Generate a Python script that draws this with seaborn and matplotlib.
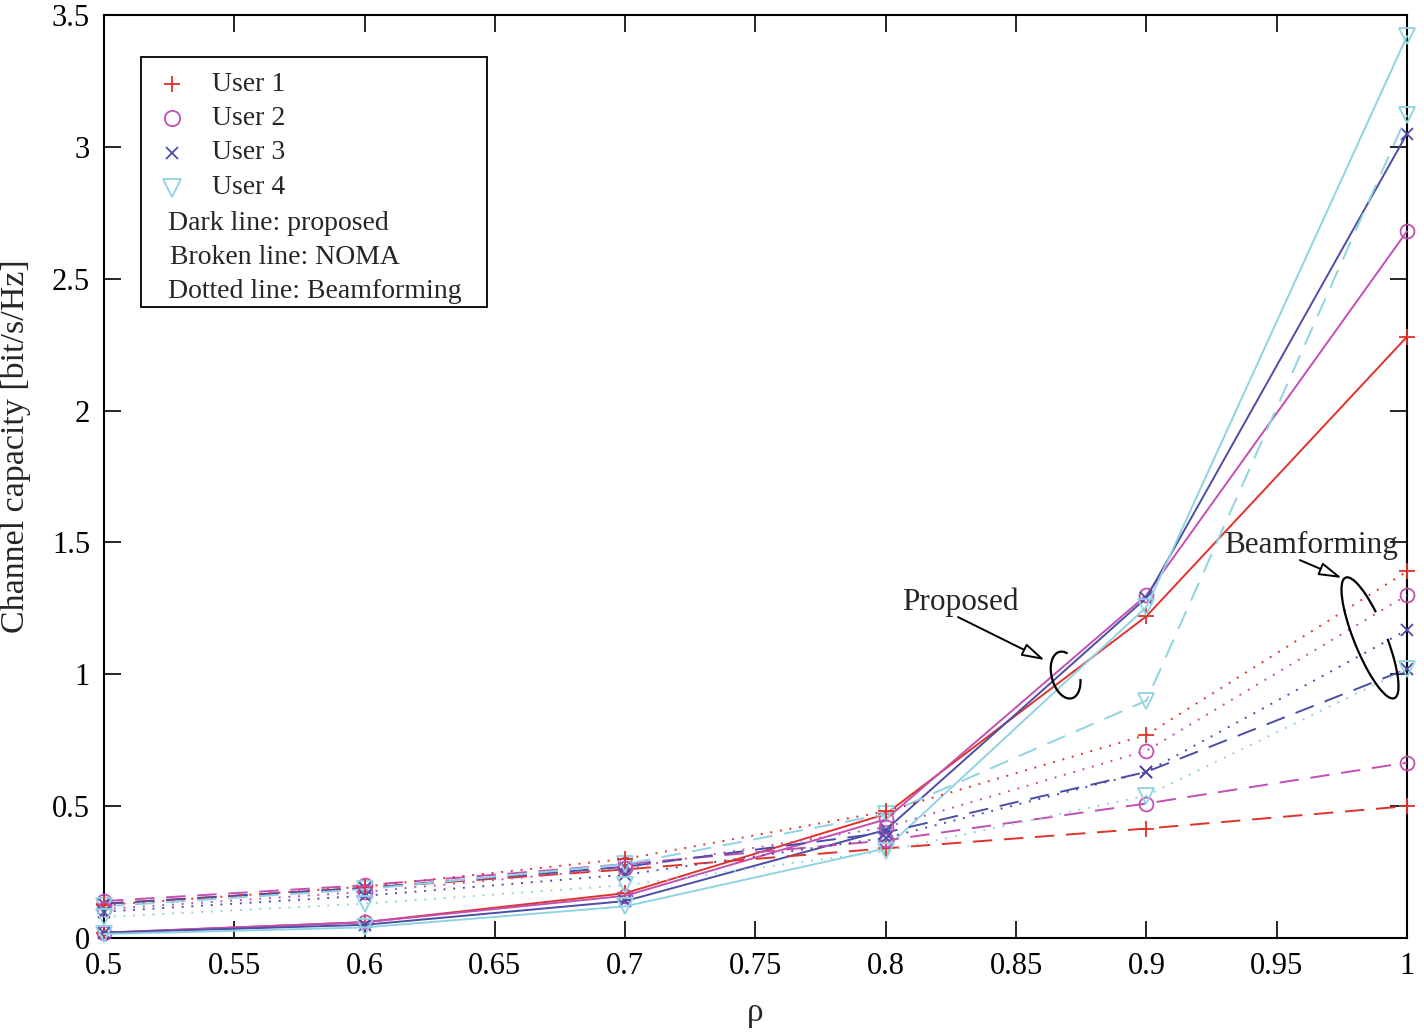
import matplotlib
matplotlib.use("Agg")
import matplotlib.pyplot as plt
import matplotlib.transforms as mtransforms
from matplotlib.patches import Arc, Rectangle
from matplotlib.lines import Line2D
import seaborn as sns
import numpy as np

# ---------------- data ----------------
rho = [0.5, 0.6, 0.7, 0.8, 0.9, 1.0]
users = ["User 1", "User 2", "User 3", "User 4"]

proposed_u1 = [0.020, 0.060, 0.170, 0.470, 1.220, 2.280]
proposed_u2 = [0.020, 0.060, 0.160, 0.450, 1.300, 2.680]
proposed_u3 = [0.020, 0.050, 0.140, 0.410, 1.290, 3.050]
proposed_u4 = [0.015, 0.040, 0.120, 0.340, 1.255, 3.420]

noma_u1 = [0.130, 0.190, 0.260, 0.340, 0.415, 0.500]
noma_u2 = [0.140, 0.200, 0.280, 0.370, 0.510, 0.665]
noma_u3 = [0.130, 0.190, 0.270, 0.400, 0.630, 1.020]
noma_u4 = [0.120, 0.185, 0.280, 0.470, 0.900, 3.120]

beam_u1 = [0.125, 0.195, 0.300, 0.480, 0.770, 1.390]
beam_u2 = [0.110, 0.175, 0.265, 0.420, 0.710, 1.300]
beam_u3 = [0.100, 0.160, 0.240, 0.380, 0.630, 1.168]
beam_u4 = [0.080, 0.130, 0.200, 0.330, 0.540, 1.020]

xtick_vals = [0.5, 0.55, 0.6, 0.65, 0.7, 0.75, 0.8, 0.85, 0.9, 0.95, 1.0]
xtick_labels = ["0.5", "0.55", "0.6", "0.65", "0.7", "0.75", "0.8", "0.85", "0.9", "0.95", "1"]
ytick_vals = [0, 0.5, 1, 1.5, 2, 2.5, 3, 3.5]
ytick_labels = ["0", "0.5", "1", "1.5", "2", "2.5", "3", "3.5"]

legend_texts = ["Dark line: proposed", "Broken line: NOMA", "Dotted line: Beamforming"]

# ---------------- style ----------------
sns.set_style("ticks")
plt.rcParams["font.family"] = ["Liberation Serif", "DejaVu Serif"]
plt.rcParams["xtick.direction"] = "in"
plt.rcParams["ytick.direction"] = "in"
plt.rcParams["xtick.top"] = True
plt.rcParams["ytick.right"] = True

colors = ["#e0322a", "#c24fb4", "#4b4da6", "#8fd3e2"]
markers = ["+", "o", "x", "v"]
msizes = [11, 10, 8, 12]

fig = plt.figure(figsize=(14.24, 10.36), dpi=100)
ax = fig.add_axes([104 / 1424, 1 - 938 / 1036, 1303 / 1424, 923 / 1036])

methods = [
    ([proposed_u1, proposed_u2, proposed_u3, proposed_u4], "-"),
    ([noma_u1, noma_u2, noma_u3, noma_u4], (0, (10, 6))),
    ([beam_u1, beam_u2, beam_u3, beam_u4], (0, (1, 4))),
]

for series, ls in methods:
    for i, vals in enumerate(series):
        sns.lineplot(x=rho, y=vals, ax=ax, color=colors[i], linestyle=ls,
                     linewidth=1.4, marker=markers[i], markersize=msizes[i],
                     markerfacecolor="none", markeredgecolor=colors[i],
                     markeredgewidth=1.3, clip_on=False, zorder=3)

ax.set_xlim(0.5, 1.0)
ax.set_ylim(0, 3.5)
ax.set_xticks(xtick_vals)
ax.set_xticklabels(xtick_labels)
ax.set_yticks(ytick_vals)
ax.set_yticklabels(ytick_labels)
ax.tick_params(axis="both", which="major", labelsize=22, length=12, width=1.2,
               colors="black", pad=10)
for sp in ax.spines.values():
    sp.set_linewidth(1.5)
    sp.set_color("black")

ax.set_xlabel("ρ", fontsize=24, labelpad=12)
ax.set_ylabel("Channel capacity [bit/s/Hz]", fontsize=24.5)
ax.yaxis.set_label_coords(-0.056, 0.533)

# ---------------- manual legend ----------------
ax.add_patch(Rectangle((0.0284, 0.6836), 0.294 - 0.0284, 0.9545 - 0.6836,
                       transform=ax.transAxes, fill=True, facecolor="white",
                       edgecolor="black", linewidth=1.3, zorder=5))
rows = [0.9252, 0.8884, 0.8505, 0.8126]
for i, u in enumerate(users):
    ax.add_line(Line2D([0.0522], [rows[i]], transform=ax.transAxes,
                       marker=markers[i], markersize=msizes[i] + 1,
                       markerfacecolor="none", markeredgecolor=colors[i],
                       markeredgewidth=1.3, linestyle="none", zorder=6))
    ax.text(0.0829, rows[i], u, transform=ax.transAxes, fontsize=20,
            va="center", ha="left", zorder=6)
for (xx, yy), t in zip([(0.0491, 0.7746), (0.0507, 0.7378), (0.0491, 0.6999)], legend_texts):
    ax.text(xx, yy, t, transform=ax.transAxes, fontsize=20, va="center",
            ha="left", zorder=6)

# ---------------- annotations ----------------
arrowprops = dict(arrowstyle="-|>,head_length=1.4,head_width=0.4", fc="white",
                  ec="black", lw=1.4, shrinkA=0, shrinkB=0)
ax.text(0.8285, 1.274, "Proposed", fontsize=22.5, ha="center", va="center")
ax.annotate("", xy=(0.861, 1.054), xytext=(0.8277, 1.217), arrowprops=arrowprops)
ax.text(0.963, 1.49, "Beamforming", fontsize=22.5, ha="center", va="center")
ax.annotate("", xy=(0.975, 1.365), xytext=(0.9589, 1.433), arrowprops=arrowprops)

def arc_at(xd, yd, w, h, ang, t1, t2):
    tr = fig.dpi_scale_trans + mtransforms.ScaledTranslation(xd, yd, ax.transData)
    ax.add_patch(Arc((0, 0), w, h, angle=ang, theta1=t1, theta2=t2,
                     transform=tr, color="black", lw=1.6, zorder=6))

arc_at(0.869, 0.997, 0.28, 0.48, 15, 70, 330)
arc_at(0.9858, 1.138, 0.32, 1.30, 22, 55, 335)

fig.savefig("out.png", dpi=100)
